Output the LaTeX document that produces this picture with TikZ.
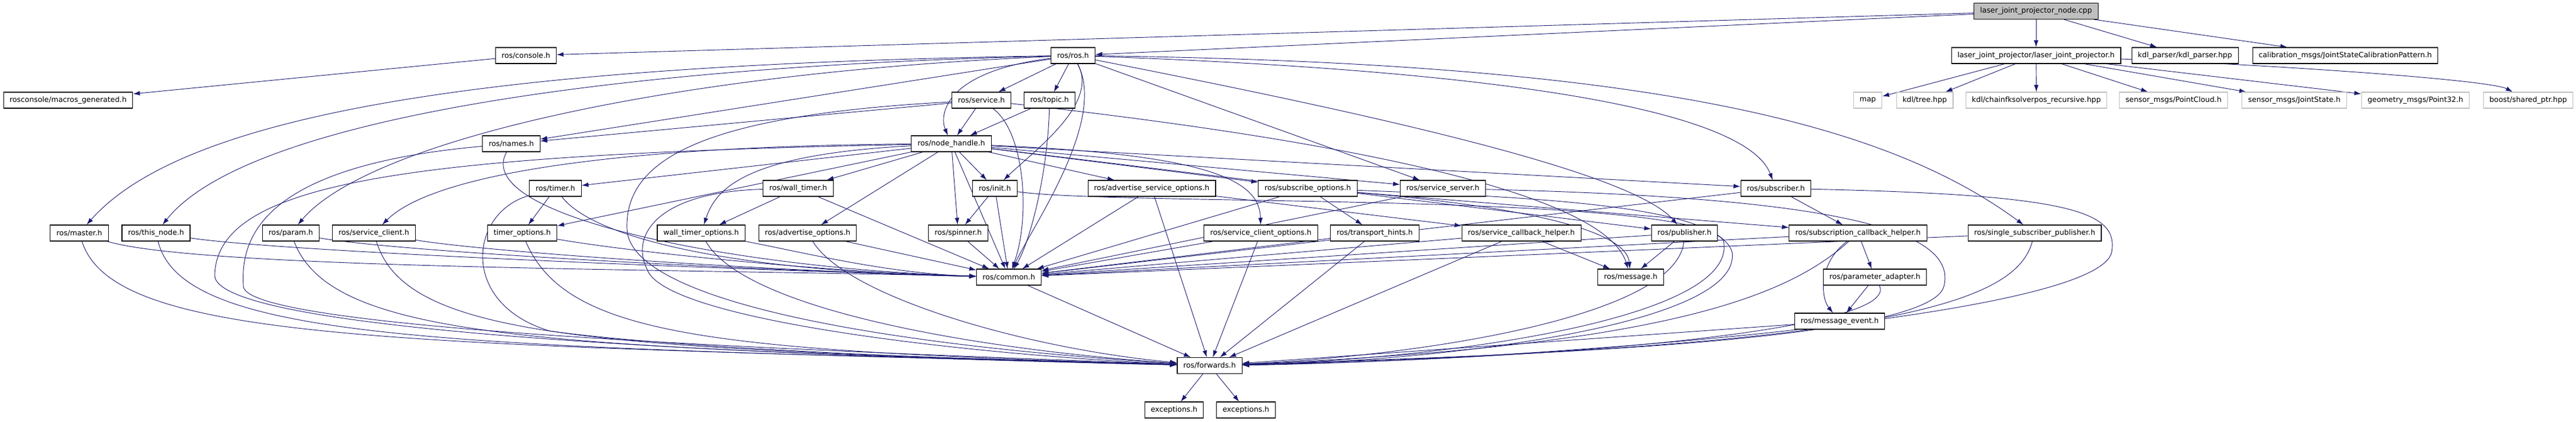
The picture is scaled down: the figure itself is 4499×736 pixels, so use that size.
\documentclass[tikz,border=0pt]{standalone}
\usepackage{fontspec}
\setmainfont{DejaVu Sans}
\usetikzlibrary{arrows.meta,backgrounds}

\definecolor{edgeblue}{HTML}{191970}
\definecolor{extgray}{HTML}{BFBFBF}

\begin{document}
\begin{tikzpicture}[x=0.75pt,y=-0.75pt,>={Latex[length=9pt,width=6pt]},
  hdr/.style={draw=black,fill=white,line width=0.8pt,minimum height=21pt,
    inner xsep=8pt,inner ysep=0pt,font=\fontsize{9.6}{11}\selectfont},
  ext/.style={hdr,draw=extgray},
  root/.style={hdr,fill=extgray},
  dep/.style={->,draw=edgeblue,line width=0.7pt}]
\useasboundingbox (0,0) rectangle (4499,736);

\node[root] (lnode) at (3556,19.5) {laser\_joint\_projector\_node.cpp};
\node[hdr] (ljp) at (3556,97) {laser\_joint\_projector/laser\_joint\_projector.h};
\node[hdr] (kdlp) at (3816,97) {kdl\_parser/kdl\_parser.hpp};
\node[hdr] (calib) at (4096,97) {calibration\_msgs/JointStateCalibrationPattern.h};
\node[ext] (map) at (3262,175) {map};
\node[ext] (tree) at (3361.5,175) {kdl/tree.hpp};
\node[ext] (chain) at (3556.5,175) {kdl/chainfksolverpos\_recursive.hpp};
\node[ext] (pcloud) at (3796,175) {sensor\_msgs/PointCloud.h};
\node[ext] (jstate) at (4007,175) {sensor\_msgs/JointState.h};
\node[ext] (point32) at (4218.5,175) {geometry\_msgs/Point32.h};
\node[ext] (sptr) at (4415.5,175) {boost/shared\_ptr.hpp};

\node[hdr] (console) at (918.5,97) {ros/console.h};
\node[hdr] (macros) at (119,175) {rosconsole/macros\_generated.h};
\node[hdr] (ros) at (1874,97) {ros/ros.h};
\node[hdr] (service) at (1714,175) {ros/service.h};
\node[hdr] (topic) at (1833,175) {ros/topic.h};
\node[hdr] (names) at (893,251) {ros/names.h};
\node[hdr] (nh) at (1661.5,251) {ros/node\_handle.h};
\node[hdr] (timer) at (970,329) {ros/timer.h};
\node[hdr] (walltimer) at (1394,329) {ros/wall\_timer.h};
\node[hdr] (init) at (1737.5,329) {ros/init.h};
\node[hdr] (aso) at (2011.5,329) {ros/advertise\_service\_options.h};
\node[hdr] (subopt) at (2284,329) {ros/subscribe\_options.h};
\node[hdr] (srvsrv) at (2520,329) {ros/service\_server.h};
\node[hdr] (subscriber) at (3101.5,329) {ros/subscriber.h};
\node[hdr] (master) at (138.5,407) {ros/master.h};
\node[hdr] (thisnode) at (272.5,407) {ros/this\_node.h};
\node[hdr] (param) at (508,407) {ros/param.h};
\node[hdr] (srvcli) at (653,407) {ros/service\_client.h};
\node[hdr] (timeropt) at (912,407) {timer\_options.h};
\node[hdr] (wtopt) at (1224.5,407) {wall\_timer\_options.h};
\node[hdr] (advopt) at (1410.5,407) {ros/advertise\_options.h};
\node[hdr] (spinner) at (1673.5,407) {ros/spinner.h};
\node[hdr] (sco) at (2202,407) {ros/service\_client\_options.h};
\node[hdr] (thints) at (2401,407) {ros/transport\_hints.h};
\node[hdr] (scbh) at (2657,407) {ros/service\_callback\_helper.h};
\node[hdr] (publisher) at (2942,407) {ros/publisher.h};
\node[hdr] (subcbh) at (3245,407) {ros/subscription\_callback\_helper.h};
\node[hdr] (ssp) at (3553.5,407) {ros/single\_subscriber\_publisher.h};
\node[hdr] (common) at (1762,484) {ros/common.h};
\node[hdr] (message) at (2848,484) {ros/message.h};
\node[hdr] (padapt) at (3274.5,484) {ros/parameter\_adapter.h};
\node[hdr] (msgevent) at (3213,561) {ros/message\_event.h};
\node[hdr] (fwd) at (2112.5,638.5) {ros/forwards.h};
\node[hdr] (exca) at (2050.5,716) {exceptions.h};
\node[hdr] (excb) at (2176,716) {exceptions.h};

\begin{pgfonlayer}{background}
% the .cpp file
\draw[dep] (lnode) -- (ros);
\draw[dep] (lnode) -- (console);
\draw[dep] (lnode) -- (ljp);
\draw[dep] (lnode) -- (kdlp);
\draw[dep] (lnode) -- (calib);
\draw[dep] (ljp) -- (map);
\draw[dep] (ljp) -- (tree);
\draw[dep] (ljp) -- (chain);
\draw[dep] (ljp) -- (pcloud);
\draw[dep] (ljp) -- (jstate);
\draw[dep] (ljp) -- (point32);
\draw[dep] (ljp) .. controls (4000,115) and (4350,140) .. (sptr);
\draw[dep] (console) -- (macros);

% ros/ros.h
\draw[dep] (ros) .. controls (900,112) and (330,190) .. (master);
\draw[dep] (ros) .. controls (1000,118) and (420,220) .. (thisnode);
\draw[dep] (ros) .. controls (1150,128) and (640,250) .. (param);
\draw[dep] (ros) -- (names);
\draw[dep] (ros) -- (service);
\draw[dep] (ros) -- (topic);
\draw[dep] (ros) .. controls (1650,125) and (1640,200) .. (nh);
\draw[dep] (ros) .. controls (1920,180) and (1810,260) .. (init);
\draw[dep] (ros) .. controls (1935,210) and (1800,400) .. (common);
\draw[dep] (ros) -- (srvsrv);
\draw[dep] (ros) .. controls (2400,200) and (2850,300) .. (publisher);
\draw[dep] (ros) .. controls (2800,130) and (3060,220) .. (subscriber);
\draw[dep] (ros) .. controls (2900,110) and (3300,220) .. (ssp);

% ros/service.h, ros/topic.h, ros/names.h
\draw[dep] (service) -- (nh);
\draw[dep] (service) -- (names);
\draw[dep] (service) .. controls (1250,200) and (1090,270) .. (1095,400) .. controls (1100,520) and (1500,600) .. (fwd);
\draw[dep] (service) .. controls (2300,240) and (2800,330) .. (message);
\draw[dep] (service) .. controls (1790,230) and (1800,380) .. (common);
\draw[dep] (topic) -- (nh);
\draw[dep] (topic) .. controls (1830,300) and (1800,420) .. (common);
\draw[dep] (names) .. controls (820,380) and (1300,470) .. (common);
\draw[dep] (names) .. controls (450,290) and (420,420) .. (425,500) .. controls (430,580) and (1500,615) .. (fwd);

% ros/node_handle.h
\draw[dep] (nh) -- (timer);
\draw[dep] (nh) -- (walltimer);
\draw[dep] (nh) -- (timeropt);
\draw[dep] (nh) .. controls (1300,270) and (1250,330) .. (wtopt);
\draw[dep] (nh) -- (advopt);
\draw[dep] (nh) .. controls (1100,255) and (760,300) .. (srvcli);
\draw[dep] (nh) .. controls (700,270) and (380,320) .. (375,480) .. controls (370,590) and (1500,625) .. (fwd);
\draw[dep] (nh) -- (init);
\draw[dep] (nh) -- (spinner);
\draw[dep] (nh) -- (common);
\draw[dep] (nh) -- (aso);
\draw[dep] (nh) -- (subopt);
\draw[dep] (nh) -- (srvsrv);
\draw[dep] (nh) .. controls (2130,270) and (2200,320) .. (sco);
\draw[dep] (nh) -- (subscriber);
\draw[dep] (nh) -- (publisher);

% timers
\draw[dep] (timer) -- (timeropt);
\draw[dep] (timer) .. controls (1040,420) and (1300,475) .. (common);
\draw[dep] (timer) .. controls (820,370) and (800,530) .. (960,578) .. controls (1200,612) and (1800,632) .. (fwd);
\draw[dep] (walltimer) -- (wtopt);
\draw[dep] (walltimer) -- (common);
\draw[dep] (walltimer) .. controls (1150,335) and (1100,410) .. (1130,470) .. controls (1160,560) and (1700,620) .. (fwd);

% left row
\draw[dep] (master) .. controls (350,470) and (1200,470) .. (common);
\draw[dep] (thisnode) .. controls (500,440) and (1250,470) .. (common);
\draw[dep] (param) .. controls (700,440) and (1300,472) .. (common);
\draw[dep] (srvcli) .. controls (850,440) and (1350,474) .. (common);
\draw[dep] (timeropt) .. controls (1100,440) and (1450,476) .. (common);
\draw[dep] (wtopt) .. controls (1400,440) and (1550,478) .. (common);
\draw[dep] (advopt) -- (common);
\draw[dep] (master) .. controls (200,600) and (700,600) .. (fwd);
\draw[dep] (thisnode) .. controls (320,600) and (800,604) .. (fwd);
\draw[dep] (param) .. controls (580,595) and (950,606) .. (fwd);
\draw[dep] (srvcli) .. controls (710,595) and (1050,608) .. (fwd);
\draw[dep] (timeropt) .. controls (990,590) and (1250,612) .. (fwd);
\draw[dep] (wtopt) .. controls (1300,540) and (1700,610) .. (fwd);
\draw[dep] (advopt) .. controls (1480,520) and (1800,610) .. (fwd);

% middle row
\draw[dep] (init) -- (spinner);
\draw[dep] (init) -- (common);
\draw[dep] (init) .. controls (1950,360) and (2950,335) .. (3010,420) .. controls (3040,560) and (2500,628) .. (fwd);
\draw[dep] (spinner) -- (common);
\draw[dep] (aso) -- (common);
\draw[dep] (aso) -- (fwd);
\draw[dep] (aso) -- (scbh);
\draw[dep] (subopt) -- (common);
\draw[dep] (subopt) -- (thints);
\draw[dep] (subopt) -- (subcbh);
\draw[dep] (subopt) .. controls (2650,360) and (2840,400) .. (message);
\draw[dep] (subopt) .. controls (2700,345) and (3000,360) .. (3025,440) .. controls (3045,570) and (2500,632) .. (fwd);
\draw[dep] (srvsrv) -- (common);
\draw[dep] (srvsrv) .. controls (3200,345) and (3420,400) .. (3395,500) .. controls (3370,600) and (2600,622) .. (fwd);
\draw[dep] (subscriber) -- (common);
\draw[dep] (subscriber) -- (subcbh);
\draw[dep] (subscriber) .. controls (3620,340) and (3700,370) .. (3688,440) .. controls (3665,560) and (2600,632) .. (fwd);

% lower rows
\draw[dep] (sco) -- (common);
\draw[dep] (sco) -- (fwd);
\draw[dep] (thints) -- (common);
\draw[dep] (thints) -- (fwd);
\draw[dep] (scbh) -- (common);
\draw[dep] (scbh) -- (fwd);
\draw[dep] (scbh) -- (message);
\draw[dep] (publisher) -- (common);
\draw[dep] (publisher) -- (message);
\draw[dep] (publisher) .. controls (2930,550) and (2500,620) .. (fwd);
\draw[dep] (subcbh) -- (common);
\draw[dep] (subcbh) -- (padapt);
\draw[dep] (subcbh) .. controls (3175,460) and (3180,520) .. (msgevent);
\draw[dep] (subcbh) .. controls (3120,520) and (2900,605) .. (fwd);
\draw[dep] (ssp) -- (common);
\draw[dep] (ssp) .. controls (3520,530) and (3300,605) .. (fwd);
\draw[dep] (padapt) -- (msgevent);
\draw[dep] (padapt) .. controls (3320,570) and (2800,625) .. (fwd);
\draw[dep] (msgevent) -- (fwd);
\draw[dep] (common) -- (fwd);
\draw[dep] (fwd) -- (exca);
\draw[dep] (fwd) -- (excb);
\end{pgfonlayer}
\end{tikzpicture}
\end{document}
